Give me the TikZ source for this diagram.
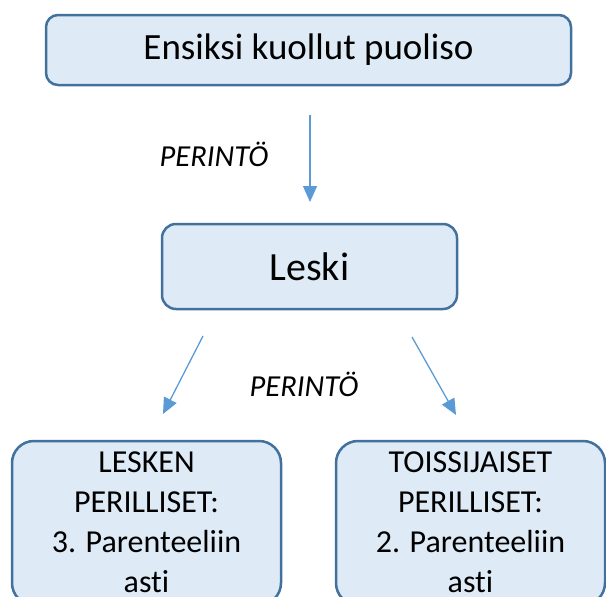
\documentclass[tikz,border=0pt]{standalone}
\usepackage{fontspec}
\setmainfont{Carlito}[Ligatures=NoCommon]
\usetikzlibrary{arrows.meta}
\definecolor{boxfill}{HTML}{DEEBF7}
\definecolor{boxline}{HTML}{41719C}
\definecolor{arrowblue}{HTML}{5B9BD5}
\tikzset{
  card/.style={draw=boxline, fill=boxfill, line width=2.5pt, inner sep=0pt},
  flow/.style={draw=arrowblue, line width=1.3pt,
    -{Triangle[length=16pt,width=14pt]}},
  tag/.style={font=\fontsize{30.5}{36}\selectfont\itshape, inner sep=0pt},
  boxtext/.style={align=center, inner sep=0pt, font=\fontsize{32}{40}\selectfont},
}
\begin{document}
\begin{tikzpicture}[x=1pt, y=-1pt]
  \useasboundingbox (0,0) rectangle (606,597);
  \clip (0,0) rectangle (606,597);

  % top and middle boxes
  \node[card, minimum width=525pt, minimum height=70pt, rounded corners=12pt,
        font=\fontsize{37}{44}\selectfont] (first) at (308.5,50) {Ensiksi kuollut puoliso};
  \node[card, minimum width=295pt, minimum height=85pt, rounded corners=14pt,
        font=\fontsize{40}{48}\selectfont] (leski) at (309.5,266.5) {Leski};

  % bottom boxes (run past the lower edge)
  \node[card, minimum width=269pt, minimum height=164pt, rounded corners=22pt] (heirs) at (146.5,523) {};
  \node[card, minimum width=269pt, minimum height=164pt, rounded corners=22pt] (second) at (470.5,523) {};
  \node[boxtext] (heirstext) at (146.5,522)
    {LESKEN\\PERILLISET:\\3. Parenteeliin\\asti};
  \node[boxtext] (secondtext) at (470.5,522)
    {TOISSIJAISET\\PERILLISET:\\2. Parenteeliin\\asti};

  % arrow ends
  \coordinate (a1s) at (310,115);  \coordinate (a1e) at (310,202);
  \coordinate (a2s) at (203,336);  \coordinate (a2e) at (163,414);
  \coordinate (a3s) at (412,337);  \coordinate (a3e) at (456,415);
  \draw[flow] (a1s) -- (a1e);
  \draw[flow] (a2s) -- (a2e);
  \draw[flow] (a3s) -- (a3e);

  % labels
  \node[tag] (inherit1) at (214,154) {PERINTÖ};
  \node[tag] (inherit2) at (304,384) {PERINTÖ};
\end{tikzpicture}
\end{document}
